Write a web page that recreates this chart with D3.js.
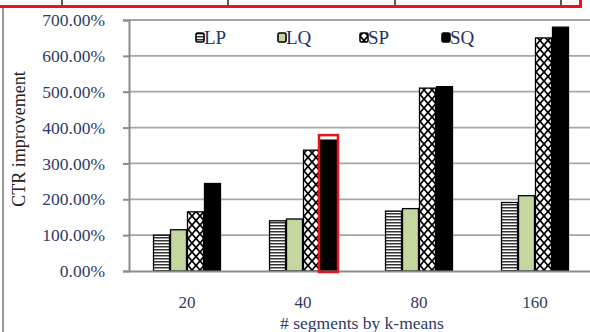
<!DOCTYPE html>
<html><head><meta charset="utf-8">
<script src="https://cdn.jsdelivr.net/npm/d3@7"></script>
<style>body{margin:0;background:#fff;overflow:hidden}svg{display:block}
text{font-family:"Liberation Serif","Times New Roman",serif !important}</style>
</head><body>
<svg id="c" width="590" height="332"></svg>
<script>
const categories = ["20", "40", "80", "160"];
const seriesNames = ["LP", "LQ", "SP", "SQ"];
const LP = [100, 140, 167, 191];
const LQ = [115, 145, 174, 210];
const SP = [165, 337, 510, 650];
const SQ = [244, 365, 514, 680];
const yTicks = [0, 100, 200, 300, 400, 500, 600, 700];
const values = {LP, LQ, SP, SQ};

(function(){
const svg = d3.select("#c");
const defs = svg.append("defs");
const FS = 17.5;
// stripes
const pStr = defs.append("pattern").attr("id","pLP").attr("patternUnits","userSpaceOnUse").attr("width",6).attr("height",3);
pStr.append("rect").attr("width",6).attr("height",3).attr("fill","#fff");
pStr.append("rect").attr("width",6).attr("height",1.5).attr("fill","#333");
// lattice
const pL = defs.append("pattern").attr("id","pSP").attr("patternUnits","userSpaceOnUse").attr("width",8).attr("height",9).attr("x",0);
pL.append("rect").attr("width",8).attr("height",9).attr("fill","#fff");
pL.append("path").attr("d","M0,0L8,9M8,0L0,9").attr("stroke","#000").attr("stroke-width",1.7);
pL.append("circle").attr("cx",4).attr("cy",4.5).attr("r",1.2).attr("fill","#000");

const fills = {LP:"url(#pLP)", LQ:"#c4d79e", SP:"url(#pSP)", SQ:"#000"};

const mLeft = 129, mRight = 593, mTop = 20, mBottom = 271;
const x0 = d3.scaleBand().domain(categories).range([mLeft, mRight]).paddingInner(0.414).paddingOuter(0.207);
const x1 = d3.scaleBand().domain(seriesNames).range([0, x0.bandwidth()]);
const y = d3.scaleLinear().domain([0, 700]).range([mBottom, mTop]);

// frame decorations
svg.append("line").attr("x1",3).attr("x2",3).attr("y1",7).attr("y2",332).attr("stroke","#999").attr("stroke-width",2);
[62, 228, 395, 561].forEach(xx => svg.append("line").attr("x1",xx).attr("x2",xx).attr("y1",0).attr("y2",6).attr("stroke","#222").attr("stroke-width",1.5));
svg.append("path").attr("d","M0,6.5H580.5V0").attr("fill","none").attr("stroke","#e8141b").attr("stroke-width",3);

// gridlines
svg.append("g").selectAll("line").data(yTicks.slice(1)).join("line")
  .attr("x1",mLeft).attr("x2",590).attr("y1",d=>y(d)).attr("y2",d=>y(d))
  .attr("stroke","#a6a6a6").attr("stroke-width",1.8);

// y axis
const ya = svg.append("g").attr("transform",`translate(${mLeft},0)`)
  .call(d3.axisLeft(y).tickValues(yTicks).tickSize(6).tickPadding(18).tickFormat(d=>d3.format(".2f")(d)+"%"));
ya.select(".domain").attr("stroke","#8c8c8c").attr("stroke-width",2);
ya.selectAll(".tick line").attr("stroke","#8c8c8c").attr("stroke-width",2);
ya.selectAll("text").attr("font-size",FS).attr("fill","#2d3a66");

// bars
const g = svg.append("g");
categories.forEach((c,i)=>{
  seriesNames.forEach(s=>{
    const v = values[s][i];
    g.append("rect")
      .attr("x", x0(c)+x1(s)+0.5).attr("y", y(v))
      .attr("width", x1.bandwidth()-1).attr("height", mBottom - y(v))
      .attr("fill", fills[s]).attr("stroke","#000").attr("stroke-width",1.3);
  });
});

// x axis
const xa = svg.append("g").attr("transform",`translate(0,${mBottom})`)
  .call(d3.axisBottom(x0).tickSize(0).tickPadding(25).tickSizeOuter(0));
xa.select(".domain").attr("stroke","#8c8c8c").attr("stroke-width",2);
xa.selectAll("text").attr("font-size",17).attr("fill","#2d3a66");

// highlight box
svg.append("rect").attr("x", x0("40")+x1("SQ")-1).attr("y", y(SQ[1])-5)
  .attr("width", x1.bandwidth()+2).attr("height", mBottom - y(SQ[1]) + 6)
  .attr("fill","none").attr("stroke","#e8141b").attr("stroke-width",2.5);

// axis titles
svg.append("text").attr("transform","translate(25,139) rotate(-90)").attr("text-anchor","middle")
  .attr("font-size",18).attr("fill","#222").text("CTR improvement");
svg.append("text").attr("x",362).attr("y",329).attr("text-anchor","middle")
  .attr("font-size",17.5).attr("fill","#2d3a66").text("# segments by k-means");

// legend
const lx = [196, 278, 360, 442];
seriesNames.forEach((s,i)=>{
  svg.append("rect").attr("x",lx[i]).attr("y",33).attr("width",8).attr("height",9)
    .attr("fill",fills[s]).attr("stroke","#000").attr("stroke-width",1.6).attr("rx",1.5);
  svg.append("text").attr("x",lx[i]+8).attr("y",44)
    .attr("font-size",19).attr("fill","#23306b").text(s);
});
})();
</script>
</body></html>
